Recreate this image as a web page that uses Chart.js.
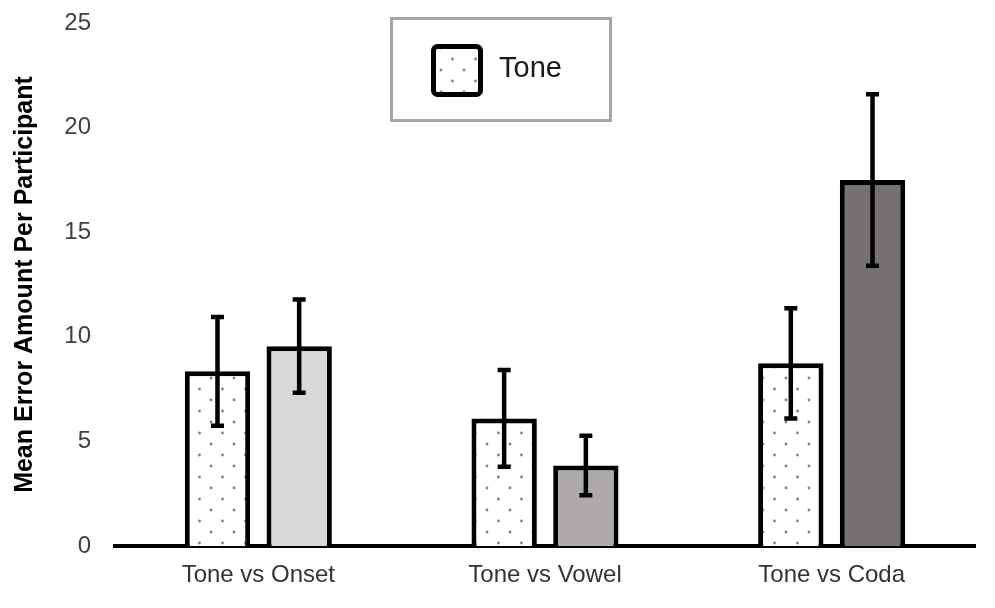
<!DOCTYPE html>
<html>
<head>
<meta charset="utf-8">
<script src="https://cdn.jsdelivr.net/npm/chart.js@4.4.1/dist/chart.umd.min.js"></script>
<style>
  html, body { margin: 0; padding: 0; background: #fff; }
  #wrap { width: 995px; height: 608px; }
</style>
</head>
<body>
<div id="wrap"><canvas id="chart_meanErrorAmount"></canvas></div>
<script>
var categories = ['Tone vs Onset', 'Tone vs Vowel', 'Tone vs Coda'];
var toneMeans = [8.35, 6.1, 8.73];
var toneErrors = [2.6, 2.31, 2.63];
var contrastMeans = [9.55, 3.85, 17.5];
var contrastErrors = [2.23, 1.42, 4.1];
var contrastColors = ['#d9d9d9', '#aeaaaa', '#767171'];
var yTicks = [0, 5, 10, 15, 20, 25];

var FONT = '"Liberation Sans", Arial, sans-serif';

// dotted fill for the Tone bars
function makeDotPattern() {
    var c = document.createElement('canvas');
    c.width = 23;
    c.height = 22;
    var g = c.getContext('2d');
    g.fillStyle = '#ffffff';
    g.fillRect(0, 0, 23, 22);
    g.fillStyle = '#7f7f7f';
    g.beginPath();
    g.arc(4, 4, 1.4, 0, Math.PI * 2);
    g.arc(15.5, 15, 1.4, 0, Math.PI * 2);
    g.fill();
    return g.createPattern(c, 'repeat');
}
var dotPattern = makeDotPattern();

var errorBarPlugin = {
    id: 'errorBars',
    afterDatasetsDraw: function (chart) {
        var ctx = chart.ctx;
        var y = chart.scales.y;
        var errs = [toneErrors, contrastErrors];
        ctx.save();
        ctx.strokeStyle = '#000';
        ctx.lineWidth = 4.5;
        chart.data.datasets.forEach(function (ds, i) {
            var meta = chart.getDatasetMeta(i);
            meta.data.forEach(function (bar, j) {
                var v = ds.data[j], e = errs[i][j];
                var top = y.getPixelForValue(v + e);
                var bot = y.getPixelForValue(v - e);
                ctx.beginPath();
                ctx.moveTo(bar.x, top);
                ctx.lineTo(bar.x, bot);
                ctx.moveTo(bar.x - 6.5, top);
                ctx.lineTo(bar.x + 6.5, top);
                ctx.moveTo(bar.x - 6.5, bot);
                ctx.lineTo(bar.x + 6.5, bot);
                ctx.stroke();
            });
        });
        ctx.restore();
    }
};

var legendBoxPlugin = {
    id: 'legendBox',
    afterDraw: function (chart) {
        var ctx = chart.ctx;
        ctx.save();
        ctx.fillStyle = '#fff';
        ctx.fillRect(391.5, 18.5, 219, 102);
        ctx.strokeStyle = '#a6a6a6';
        ctx.lineWidth = 3;
        ctx.strokeRect(391.5, 18.5, 219, 102);
        ctx.beginPath();
        ctx.roundRect(433.5, 46.5, 47, 48, 4);
        ctx.fillStyle = dotPattern;
        ctx.fill();
        ctx.lineWidth = 5;
        ctx.strokeStyle = '#000';
        ctx.stroke();
        ctx.fillStyle = '#1a1a1a';
        ctx.font = '29px ' + FONT;
        ctx.textBaseline = 'alphabetic';
        ctx.fillText(chart.data.datasets[0].label, 499, 77);
        ctx.restore();
    }
};

var chart_meanErrorAmount = new Chart(document.getElementById('chart_meanErrorAmount'), {
    type: 'bar',
    data: {
        labels: categories,
        datasets: [
            {
                label: 'Tone',
                data: toneMeans,
                backgroundColor: dotPattern,
                borderColor: '#000',
                borderWidth: 5
            },
            {
                label: 'Contrast',
                data: contrastMeans,
                backgroundColor: contrastColors,
                borderColor: '#000',
                borderWidth: 5
            }
        ]
    },
    options: {
        animation: false,
        responsive: true,
        maintainAspectRatio: false,
        barPercentage: 0.8,
        categoryPercentage: 0.57,
        layout: {
            padding: { left: 0, right: 20, top: 23, bottom: 0 }
        },
        plugins: {
            legend: { display: false },
            tooltip: { enabled: false }
        },
        scales: {
            x: {
                z: 1,
                grid: { display: false, drawTicks: false },
                border: { display: true, color: '#000', width: 4 },
                ticks: {
                    padding: 15,
                    color: '#333',
                    font: { family: FONT, size: 24 }
                },
                afterFit: function (scale) {
                    scale.height = 62;
                    scale.paddingLeft = 0;
                    scale.paddingRight = 0;
                }
            },
            y: {
                min: 0,
                max: 25,
                grid: { display: false, drawTicks: false },
                border: { display: false },
                afterBuildTicks: function (scale) {
                    scale.ticks = yTicks.map(function (v) { return { value: v }; });
                },
                ticks: {
                    padding: 24,
                    color: '#404040',
                    font: { family: FONT, size: 24 }
                },
                title: {
                    display: true,
                    text: 'Mean Error Amount Per Participant',
                    color: '#000',
                    padding: { top: 10, bottom: 0 },
                    font: { family: FONT, size: 25, weight: 'bold' }
                },
                afterFit: function (scale) {
                    scale.width = 115;
                    scale.paddingTop = 0;
                    scale.paddingBottom = 0;
                }
            }
        }
    },
    plugins: [errorBarPlugin, legendBoxPlugin]
});
</script>
</body>
</html>
